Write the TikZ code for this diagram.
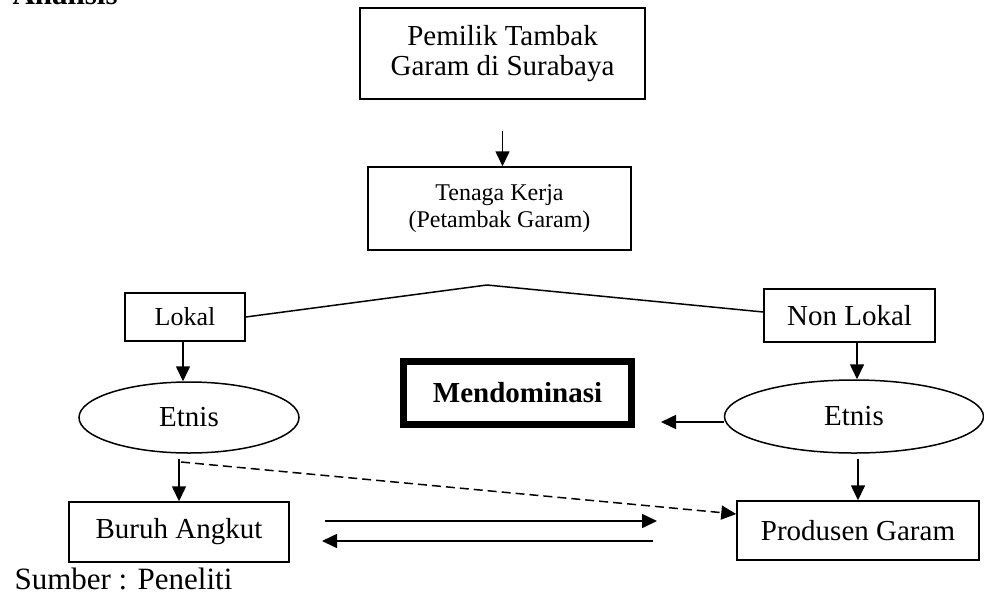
\documentclass[tikz,border=0pt]{standalone}
\usepackage{fontspec}
\setmainfont{Liberation Serif}
\usetikzlibrary{shapes.geometric,arrows.meta}
\begin{document}
\begin{tikzpicture}[x=1pt,y=-1pt,
  box/.style={draw, line width=1.5pt, inner sep=0pt, align=center},
  oval/.style={draw, ellipse, line width=1.5pt, inner sep=0pt},
  arr/.style={line width=1.6pt, -{Triangle[length=15pt,width=14pt]}},
  plainline/.style={line width=1.5pt},
  dsh/.style={line width=1.5pt, dash pattern=on 9pt off 5pt, -{Triangle[length=15pt,width=14pt]}},
  fbig/.style={font=\fontsize{29}{30}\selectfont},
  fmid/.style={font=\fontsize{24}{27}\selectfont},
  fsmall/.style={font=\fontsize{26}{28}\selectfont},
]
\useasboundingbox (0,0) rectangle (984,595);
\fill[white] (0,0) rectangle (984,595);

\node[anchor=base west, font=\fontsize{31}{33}\selectfont\bfseries] (title) at (9,4) {Analisis};

\node[box, fbig, minimum width=285pt, minimum height=91pt] (top) at (502.5,53.5) {Pemilik Tambak\\Garam di Surabaya};
\node[box, fmid, minimum width=263pt, minimum height=83pt] (tenaga) at (499.5,208.5) {Tenaga Kerja\\(Petambak Garam)};

\node[box, fsmall, minimum width=120pt, minimum height=48pt] (lokal) at (185,317) {Lokal};
\node[box, fbig, minimum width=171pt, minimum height=53pt] (nonlokal) at (849.5,315.5) {Non Lokal};

\node[oval, fbig, minimum width=220pt, minimum height=71pt] (E1) at (189,417.5) {\raisebox{-8pt}{Etnis}};
\node[oval, fbig, minimum width=259pt, minimum height=73pt] (E2) at (854,416.5) {\raisebox{-8pt}{Etnis}};

\node[draw, line width=7pt, inner sep=0pt, minimum width=228pt, minimum height=63pt,
      font=\fontsize{29}{30}\selectfont\bfseries] (mend) at (517.5,393) {Mendominasi};

\node[box, fbig, minimum width=220pt, minimum height=60pt] (buruh) at (179,532) {Buruh Angkut};
\node[box, fbig, minimum width=242pt, minimum height=59pt] (produsen) at (858,530.5) {Produsen Garam};

\node[anchor=base west, font=\fontsize{31}{33}\selectfont] (sumber) at (11,589) {Sumber : Peneliti};

% connectors
\draw[arr] ([yshift=-31pt]top.south) -- (tenaga.north -| top.south);

\coordinate (peak) at (487,285);
\draw[plainline] (lokal.east) -- (peak) -- ([yshift=3.5pt]nonlokal.west);

\draw[arr] ([xshift=-2pt]lokal.south) -- ([xshift=-2pt]lokal.south |- E1.north);
\draw[arr] ([xshift=7.5pt]nonlokal.south) -- ([xshift=7.5pt]nonlokal.south |- E2.north);

\coordinate (mtip) at (661,422);
\draw[arr] (E2.west |- mtip) -- (mtip);

\draw[arr] ([yshift=-5pt]E1.south -| buruh.north) -- (buruh.north);
\draw[arr] ([yshift=-5pt]E2.south -| produsen.north) -- (produsen.north);

\coordinate (ds) at (181,462);
\draw[dsh] (ds) -- ([yshift=16.5pt]produsen.west);

\coordinate (h1s) at (325,521);
\coordinate (h1e) at (657,521);
\coordinate (h2s) at (653,541);
\coordinate (h2e) at (322,541);
\draw[arr] (h1s) -- (h1e);
\draw[arr] (h2s) -- (h2e);
\end{tikzpicture}
\end{document}
